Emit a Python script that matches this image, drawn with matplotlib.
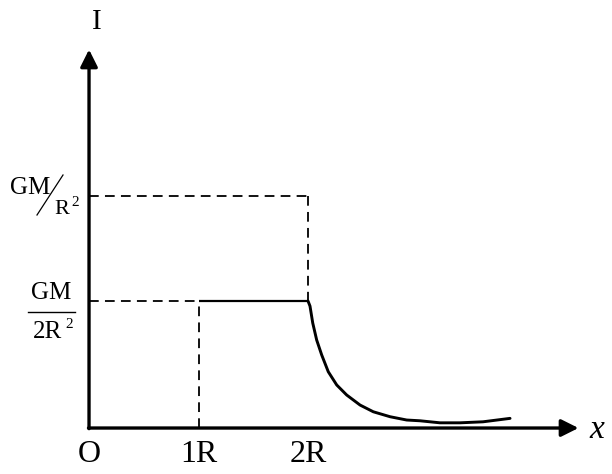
import matplotlib
matplotlib.use("Agg")
import matplotlib.pyplot as plt
import numpy as np

plt.rcParams['lines.scale_dashes'] = False

# ---- data (x in units of R, y in units of GM/2R^2 as drawn) ----
tick_x = [0, 1, 2]
tick_labels = ["O", "1R", "2R"]
level_half = 1.0          # GM/2R^2
level_full = 1.83         # GM/R^2 (as drawn in the sketch)
flat_x = [1.0, 2.0]
flat_y = [1.0, 1.0]
curve_x = [2.0, 2.018, 2.043, 2.079, 2.125, 2.185, 2.262, 2.353, 2.475, 2.596,
           2.749, 2.901, 3.023, 3.205, 3.388, 3.598, 3.845]
curve_y = [1.0, 0.96, 0.827, 0.693, 0.575, 0.443, 0.339, 0.260, 0.181, 0.128,
           0.089, 0.063, 0.057, 0.041, 0.041, 0.049, 0.076]
x_axis_end = 4.47
y_axis_end = 2.98

W, H = 612, 474
fig = plt.figure(figsize=(W / 100, H / 100), dpi=100)
ax = fig.add_axes([0, 0, 1, 1])
ax.set_xlim(-0.813, 4.776)
ax.set_ylim(-0.362, 3.370)
ax.axis('off')

# axes with arrows
ax.annotate('', xy=(x_axis_end, 0), xytext=(-0.005, 0),
            arrowprops=dict(arrowstyle='-|>', lw=2.4, color='black',
                            mutation_scale=26, shrinkA=0, shrinkB=0))
ax.annotate('', xy=(0, y_axis_end), xytext=(0, -0.005),
            arrowprops=dict(arrowstyle='-|>', lw=2.4, color='black',
                            mutation_scale=26, shrinkA=0, shrinkB=0))

dash = (0, (7, 4.5))
# dashed guides
ax.plot([0, flat_x[0]], [level_half, level_half], color='black', lw=1.3, linestyle=dash)
ax.plot([flat_x[0], flat_x[0]], [0, level_half], color='black', lw=1.3, linestyle=dash)
ax.plot([0, tick_x[2]], [level_full, level_full], color='black', lw=1.3, linestyle=dash)
ax.plot([tick_x[2], tick_x[2]], [level_full, level_half], color='black', lw=1.3, linestyle=dash)

# solid curve
ax.plot(flat_x, flat_y, color='black', lw=1.6, solid_capstyle='butt')
ax.plot(curve_x, curve_y, color='black', lw=2.1, solid_capstyle='round',
        solid_joinstyle='round')

serif = 'Liberation Serif'

# tick labels
for xv, lab in zip(tick_x, tick_labels):
    ax.text(xv, -0.21, lab, ha='center', va='center', fontsize=23, family=serif)

def fx(px):
    return px / W
def fy(py):
    return 1 - py / H

fig.text(fx(97), fy(22), "I", ha='center', va='center', fontsize=21, family=serif)
fig.text(fx(597), fy(430), "x", ha='center', va='center', fontsize=24,
         family=serif, style='italic')

# GM / R^2 (slanted)
fig.text(fx(30), fy(188), "GM", ha='center', va='center', fontsize=18, family=serif)
fig.add_artist(plt.Line2D([fx(37), fx(63)], [fy(215), fy(175)], color='black', lw=0.9))
fig.text(fx(62), fy(210), "R", ha='center', va='center', fontsize=16, family=serif)
fig.text(fx(75), fy(203), "2", ha='center', va='center', fontsize=11, family=serif)

# GM / 2R^2 (fraction)
fig.text(fx(51), fy(293), "GM", ha='center', va='center', fontsize=18, family=serif)
fig.add_artist(plt.Line2D([fx(28), fx(75)], [fy(312), fy(312)], color='black', lw=1.0))
fig.text(fx(47), fy(332), "2R", ha='center', va='center', fontsize=18, family=serif)
fig.text(fx(69), fy(325), "2", ha='center', va='center', fontsize=11, family=serif)

fig.savefig("out.png", dpi=100)
